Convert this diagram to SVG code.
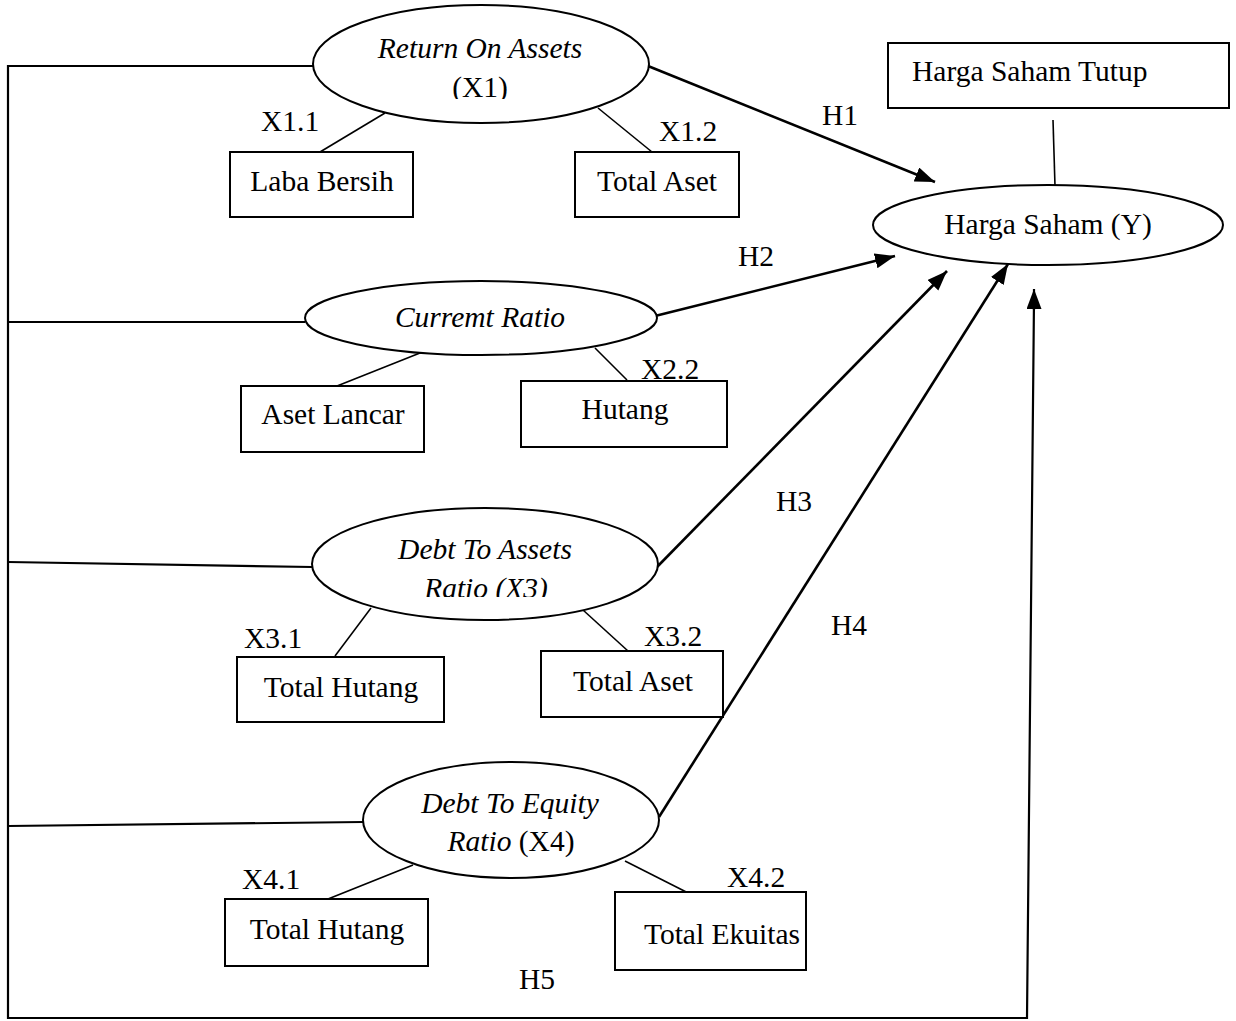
<svg xmlns="http://www.w3.org/2000/svg" width="1236" height="1021" viewBox="0 0 1236 1021">
<style>
text{font-family:"Liberation Serif","Times New Roman",serif;font-size:29.5px;fill:#000}
.i{font-style:italic}
.m{text-anchor:middle}
.n{fill:#fff;stroke:#000;stroke-width:2}
.t{stroke:#000;stroke-width:1.6;fill:none}
.a{stroke:#000;stroke-width:2.6;fill:none}
.b{stroke:#000;stroke-width:2.2;fill:none}
</style>
<defs>
<marker id="ah" markerUnits="userSpaceOnUse" markerWidth="22" markerHeight="16" refX="20" refY="7.5" orient="auto">
<path d="M0,0 L20,7.5 L0,15 z" fill="#000"/>
</marker>
<clipPath id="c1"><rect x="300" y="0" width="360" height="99"/></clipPath>
<clipPath id="c3"><rect x="300" y="500" width="370" height="97"/></clipPath>
</defs>
<rect width="1236" height="1021" fill="#fff"/>
<g id="connectors">
<polyline class="b" points="313,66 8,66 8,1018 1027,1018 1034,300"/>
<line class="b" x1="8" y1="322" x2="305" y2="322"/>
<line class="b" x1="8" y1="562" x2="312" y2="567"/>
<line class="b" x1="8" y1="826" x2="363" y2="822"/>
<line class="t" x1="385" y1="113" x2="320" y2="152"/>
<line class="t" x1="598" y1="108" x2="652" y2="152"/>
<line class="t" x1="1053" y1="120" x2="1055" y2="186"/>
<line class="t" x1="425" y1="351" x2="337" y2="386"/>
<line class="t" x1="595" y1="348" x2="627" y2="380"/>
<line class="t" x1="371" y1="608" x2="335" y2="656"/>
<line class="t" x1="583" y1="610" x2="628" y2="651"/>
<line class="t" x1="413" y1="865" x2="328" y2="899"/>
<line class="t" x1="625" y1="861" x2="708" y2="903"/>
<line class="a" x1="648" y1="66" x2="935" y2="182" marker-end="url(#ah)"/>
<line class="a" x1="655" y1="316" x2="895" y2="256" marker-end="url(#ah)"/>
<line class="a" x1="657" y1="567" x2="947" y2="271" marker-end="url(#ah)"/>
<line class="a" x1="659" y1="817" x2="1008" y2="264" marker-end="url(#ah)"/>
<line class="b" x1="1034" y1="310" x2="1034" y2="289" marker-end="url(#ah)"/>
</g>
<g id="roa">
<ellipse class="n" cx="481" cy="64" rx="168" ry="59"/>
<text class="i m" x="480" y="58">Return On Assets</text>
<text class="m" x="480" y="97" clip-path="url(#c1)">(X1)</text>
</g>
<g id="laba-bersih"><rect class="n" x="230" y="152" width="183" height="65"/><text class="m" x="322" y="191">Laba Bersih</text></g>
<g id="total-aset-1"><rect class="n" x="575" y="152" width="164" height="65"/><text class="m" x="657" y="191">Total Aset</text></g>
<g id="harga-saham-tutup"><rect class="n" x="888" y="43" width="341" height="65"/><text x="912" y="81">Harga Saham Tutup</text></g>
<g id="harga-saham"><ellipse class="n" cx="1048" cy="225" rx="175" ry="40"/><text class="m" x="1048" y="234">Harga Saham (Y)</text></g>
<g id="cr"><ellipse class="n" cx="481" cy="318" rx="176" ry="37"/><text class="i m" x="480" y="327">Curremt Ratio</text></g>
<g id="aset-lancar"><rect class="n" x="241" y="386" width="183" height="66"/><text class="m" x="333" y="424">Aset Lancar</text></g>
<g id="hutang"><rect class="n" x="521" y="381" width="206" height="66"/><text class="m" x="625" y="419">Hutang</text></g>
<g id="dar"><ellipse class="n" cx="485" cy="564" rx="173" ry="56"/><text class="i m" x="485" y="559">Debt To Assets</text><text class="i m" x="486" y="598" clip-path="url(#c3)">Ratio (X3)</text></g>
<g id="total-hutang-3"><rect class="n" x="237" y="657" width="207" height="65"/><text class="m" x="341" y="697">Total Hutang</text></g>
<g id="total-aset-3"><rect class="n" x="541" y="651" width="182" height="66"/><text class="m" x="633" y="691">Total Aset</text></g>
<g id="der"><ellipse class="n" cx="511" cy="820" rx="148" ry="58"/><text class="i m" x="510" y="813">Debt To Equity</text><text class="m" x="511" y="851"><tspan class="i">Ratio</tspan> (X4)</text></g>
<g id="total-hutang-4"><rect class="n" x="225" y="899" width="203" height="67"/><text class="m" x="327" y="939">Total Hutang</text></g>
<g id="total-ekuitas"><rect class="n" x="615" y="892" width="191" height="78"/><text class="m" x="722" y="944">Total Ekuitas</text></g>
<g id="labels">
<text x="261" y="131">X1.1</text>
<text x="659" y="141">X1.2</text>
<text x="641" y="379">X2.2</text>
<text x="244" y="648">X3.1</text>
<text x="644" y="646">X3.2</text>
<text x="242" y="889">X4.1</text>
<text x="727" y="887">X4.2</text>
<text x="822" y="125">H1</text>
<text x="738" y="266">H2</text>
<text x="776" y="511">H3</text>
<text x="831" y="635">H4</text>
<text x="519" y="989">H5</text>
</g>
</svg>
